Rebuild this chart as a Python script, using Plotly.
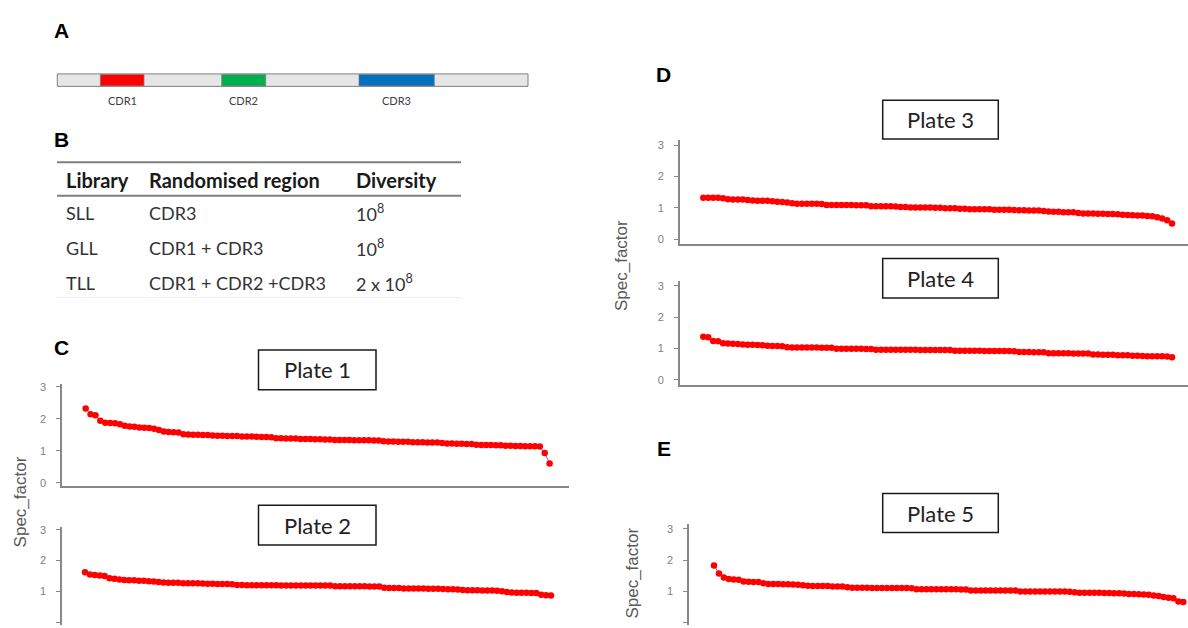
import plotly.graph_objects as go

W, H = 1188, 628

# ---------------- data ----------------
wells = list(range(1, 97))

plate1 = [2.32, 2.14, 2.11, 1.94, 1.88, 1.87, 1.86, 1.83, 1.78, 1.76, 1.75, 1.73,
          1.72, 1.71, 1.69, 1.65, 1.60, 1.59, 1.58, 1.57, 1.52, 1.51, 1.50, 1.50,
          1.49, 1.49, 1.48, 1.47, 1.47, 1.46, 1.46, 1.46, 1.45, 1.45, 1.45, 1.44,
          1.43, 1.43, 1.42, 1.39, 1.39, 1.38, 1.38, 1.38, 1.37, 1.37, 1.37, 1.36,
          1.36, 1.35, 1.35, 1.34, 1.34, 1.34, 1.34, 1.33, 1.33, 1.33, 1.33, 1.32,
          1.32, 1.30, 1.29, 1.29, 1.28, 1.28, 1.28, 1.27, 1.27, 1.27, 1.26, 1.26,
          1.26, 1.24, 1.23, 1.23, 1.22, 1.22, 1.21, 1.21, 1.19, 1.18, 1.18, 1.18,
          1.17, 1.17, 1.16, 1.16, 1.15, 1.15, 1.14, 1.14, 1.14, 1.13, 0.93, 0.60]

plate2 = [1.62, 1.55, 1.53, 1.52, 1.50, 1.43, 1.41, 1.39, 1.37, 1.36, 1.36, 1.35,
          1.35, 1.33, 1.32, 1.31, 1.29, 1.28, 1.28, 1.28, 1.27, 1.27, 1.27, 1.27,
          1.26, 1.25, 1.25, 1.24, 1.24, 1.24, 1.23, 1.21, 1.21, 1.20, 1.20, 1.20,
          1.20, 1.20, 1.20, 1.20, 1.19, 1.19, 1.19, 1.19, 1.19, 1.19, 1.19, 1.19,
          1.19, 1.19, 1.19, 1.17, 1.17, 1.17, 1.17, 1.17, 1.17, 1.17, 1.16, 1.16,
          1.16, 1.12, 1.11, 1.11, 1.11, 1.10, 1.10, 1.10, 1.10, 1.10, 1.09, 1.09,
          1.09, 1.08, 1.07, 1.07, 1.06, 1.05, 1.04, 1.04, 1.04, 1.03, 1.03, 1.03,
          1.02, 1.01, 0.98, 0.97, 0.96, 0.96, 0.96, 0.95, 0.95, 0.89, 0.88, 0.87]

plate3 = [1.32, 1.32, 1.32, 1.32, 1.30, 1.27, 1.26, 1.26, 1.26, 1.25, 1.23, 1.22,
          1.22, 1.22, 1.21, 1.19, 1.18, 1.17, 1.14, 1.13, 1.13, 1.13, 1.13, 1.13,
          1.12, 1.09, 1.09, 1.09, 1.09, 1.09, 1.09, 1.08, 1.08, 1.08, 1.05, 1.05,
          1.05, 1.05, 1.05, 1.04, 1.02, 1.02, 1.01, 1.01, 1.01, 1.01, 1.01, 1.00,
          1.00, 0.98, 0.98, 0.98, 0.97, 0.97, 0.95, 0.95, 0.95, 0.95, 0.95, 0.94,
          0.94, 0.94, 0.94, 0.93, 0.92, 0.92, 0.91, 0.91, 0.91, 0.90, 0.88, 0.87,
          0.87, 0.86, 0.86, 0.86, 0.83, 0.82, 0.82, 0.82, 0.81, 0.81, 0.80, 0.80,
          0.79, 0.78, 0.77, 0.76, 0.75, 0.75, 0.74, 0.73, 0.70, 0.66, 0.60, 0.50]

plate4 = [1.37, 1.36, 1.24, 1.23, 1.17, 1.16, 1.15, 1.14, 1.13, 1.12, 1.12, 1.11,
          1.10, 1.09, 1.08, 1.08, 1.07, 1.04, 1.03, 1.03, 1.03, 1.03, 1.03, 1.03,
          1.02, 1.02, 1.02, 0.99, 0.99, 0.99, 0.99, 0.99, 0.99, 0.98, 0.98, 0.96,
          0.96, 0.96, 0.96, 0.96, 0.96, 0.96, 0.96, 0.96, 0.95, 0.95, 0.95, 0.95,
          0.95, 0.95, 0.95, 0.93, 0.93, 0.93, 0.93, 0.93, 0.93, 0.92, 0.92, 0.92,
          0.92, 0.92, 0.92, 0.91, 0.89, 0.89, 0.89, 0.88, 0.88, 0.88, 0.85, 0.85,
          0.85, 0.85, 0.85, 0.84, 0.84, 0.84, 0.84, 0.81, 0.81, 0.80, 0.80, 0.80,
          0.78, 0.78, 0.78, 0.77, 0.77, 0.76, 0.75, 0.75, 0.75, 0.75, 0.74, 0.72]

plate5 = [1.83, 1.57, 1.44, 1.40, 1.38, 1.37, 1.32, 1.31, 1.30, 1.30, 1.26, 1.24,
          1.24, 1.24, 1.23, 1.23, 1.22, 1.21, 1.20, 1.18, 1.17, 1.17, 1.17, 1.17,
          1.16, 1.16, 1.16, 1.13, 1.12, 1.12, 1.12, 1.12, 1.11, 1.11, 1.11, 1.11,
          1.11, 1.11, 1.11, 1.11, 1.10, 1.07, 1.07, 1.07, 1.07, 1.07, 1.07, 1.07,
          1.07, 1.07, 1.06, 1.06, 1.03, 1.03, 1.03, 1.03, 1.03, 1.03, 1.03, 1.03,
          1.03, 1.03, 1.00, 1.00, 1.00, 1.00, 1.00, 1.00, 1.00, 1.00, 1.00, 1.00,
          0.99, 0.97, 0.96, 0.96, 0.96, 0.96, 0.96, 0.95, 0.95, 0.94, 0.94, 0.93,
          0.92, 0.92, 0.91, 0.90, 0.89, 0.87, 0.85, 0.82, 0.80, 0.78, 0.68, 0.66]

plate_names = ["Plate 1", "Plate 2", "Plate 3", "Plate 4", "Plate 5"]
y_ticks = [0, 1, 2, 3]
y_label = "Spec_factor"

cdr_names = ["CDR1", "CDR2", "CDR3"]

table_header = ["Library", "Randomised region", "Diversity"]
table_library = ["SLL", "GLL", "TLL"]
table_region = ["CDR3", "CDR1 + CDR3", "CDR1 + CDR2 +CDR3"]
table_diversity = ["10<sup>8</sup>", "10<sup>8</sup>", "2 x 10<sup>8</sup>"]

panel_letters = ["A", "B", "C", "D", "E"]

# ---------------- layout helpers ----------------
def fx(x):
    return x / W


def fy(y):
    return 1 - y / H


AXIS_COL = "#888888"
TICK_FONT = dict(family="Liberation Sans, Arial", size=11, color="#808080")

# per plot: pixel box of axes, axis ranges, whether x axis line visible
plots = [
    dict(vals=plate1, x0=62.3, x1=568.6, ytop=384.0, ybot=487.3, xr=[-3.79, 99.89], yr=[-0.10, 3.10], xline=True),
    dict(vals=plate2, x0=62.3, x1=568.6, ytop=529.3, ybot=628.0, xr=[-3.63, 99.59], yr=[-0.087, 3.077], xline=False),
    dict(vals=plate3, x0=680.0, x1=1188.0, ytop=137.7, ybot=242.3, xr=[-3.72, 99.24], yr=[-0.145, 3.158], xline=True),
    dict(vals=plate4, x0=680.0, x1=1188.0, ytop=280.0, ybot=385.0, xr=[-3.72, 99.24], yr=[-0.158, 3.158], xline=True),
    dict(vals=plate5, x0=689.3, x1=1188.0, ytop=526.0, ybot=628.0, xr=[-4.0, 96.95], yr=[-0.073, 3.148], xline=False),
]

fig = go.Figure()
layout = dict(
    width=W, height=H, autosize=False,
    margin=dict(l=0, r=0, t=0, b=0, pad=0),
    paper_bgcolor="white", plot_bgcolor="rgba(0,0,0,0)",
    showlegend=False,
)

for i, p in enumerate(plots, start=1):
    xa = "x" if i == 1 else f"x{i}"
    ya = "y" if i == 1 else f"y{i}"
    fig.add_trace(go.Scatter(
        x=wells, y=p["vals"], xaxis=xa, yaxis=ya,
        mode="lines+markers",
        line=dict(color="#5a6cf0", width=1),
        marker=dict(color="#ff0000", size=6.5, line=dict(width=0)),
        hoverinfo="x+y",
    ))
    layout["xaxis" if i == 1 else f"xaxis{i}"] = dict(
        domain=[fx(p["x0"]), fx(p["x1"])], range=p["xr"],
        anchor=ya, showline=p["xline"], linecolor=AXIS_COL, linewidth=2,
        showticklabels=False, ticks="", showgrid=False, zeroline=False,
    )
    layout["yaxis" if i == 1 else f"yaxis{i}"] = dict(
        domain=[fy(p["ybot"]), fy(p["ytop"])], range=p["yr"],
        anchor=xa, showline=True, linecolor=AXIS_COL, linewidth=2,
        ticks="outside", ticklen=4, tickwidth=1, tickcolor=AXIS_COL,
        tickvals=y_ticks, tickfont=TICK_FONT, ticklabelstandoff=8,
        showgrid=False, zeroline=False,
    )

shapes = []
annotations = []

# ---------------- panel A: domain bar ----------------
bar_top, bar_bot = 70.7, 83.3
shapes.append(dict(type="rect", xref="paper", yref="paper",
                   x0=fx(57.3), x1=fx(528.0), y0=fy(bar_bot), y1=fy(bar_top),
                   fillcolor="#e6e6e6", line=dict(color="#7f7f7f", width=1)))
cdr_spans = [(100.3, 144.0, "#ff0000"), (221.7, 265.7, "#00b050"), (359.0, 434.3, "#0070c0")]
for (a, b, c), name in zip(cdr_spans, cdr_names):
    shapes.append(dict(type="rect", xref="paper", yref="paper",
                       x0=fx(a), x1=fx(b), y0=fy(bar_bot - 0.5), y1=fy(bar_top + 0.5),
                       fillcolor=c, line=dict(color="#7f7f7f", width=0.8)))
    annotations.append(dict(xref="paper", yref="paper", x=fx((a + b) / 2), y=fy(97.5),
                            text=name, showarrow=False, xanchor="center", yanchor="middle",
                            font=dict(family="Lato, Open Sans", size=11, color="#404040")))

# ---------------- panel B: table ----------------
TABLE_FONT = "Lato, Open Sans"
shapes.append(dict(type="line", xref="paper", yref="paper", x0=fx(57), x1=fx(461),
                   y0=fy(160), y1=fy(160), line=dict(color="#7f7f7f", width=2)))
shapes.append(dict(type="line", xref="paper", yref="paper", x0=fx(57), x1=fx(461),
                   y0=fy(194), y1=fy(194), line=dict(color="#7f7f7f", width=2)))
shapes.append(dict(type="line", xref="paper", yref="paper", x0=fx(57), x1=fx(461),
                   y0=fy(297), y1=fy(297), line=dict(color="#ececec", width=1)))
col_x = [64, 147, 354]
for cx, t in zip(col_x, table_header):
    annotations.append(dict(xref="paper", yref="paper", x=fx(cx), y=fy(178),
                            text=f"<b>{t}</b>", showarrow=False, xanchor="left", yanchor="middle",
                            font=dict(family=TABLE_FONT, size=20, color="#1a1a1a")))
row_y = [211, 247, 282]
for ry, lib, reg, div in zip(row_y, table_library, table_region, table_diversity):
    for cx, t in zip(col_x, [lib, reg, div]):
        annotations.append(dict(xref="paper", yref="paper", x=fx(cx), y=fy(ry),
                                text=t, showarrow=False, xanchor="left", yanchor="middle",
                                font=dict(family=TABLE_FONT, size=18, color="#333333")))

# ---------------- plate title boxes ----------------
plate_boxes = [(258.5, 376.0, 350.0, 390.0),
               (258.5, 376.0, 507.0, 547.0),
               (882.7, 998.3, 97.3, 136.5),
               (882.7, 998.3, 257.3, 297.3),
               (882.7, 998.3, 495.0, 534.5)]
for (a, b, t, btm), name in zip(plate_boxes, plate_names):
    shapes.append(dict(type="rect", xref="paper", yref="paper",
                       x0=fx(a), x1=fx(b), y0=fy(btm), y1=fy(t),
                       fillcolor="white", line=dict(color="#1a1a1a", width=1.5), layer="above"))
    annotations.append(dict(xref="paper", yref="paper", x=fx((a + b) / 2), y=fy((t + btm) / 2),
                            text=name, showarrow=False, xanchor="center", yanchor="middle",
                            font=dict(family="Lato, Open Sans", size=22, color="#222222")))

# ---------------- y-axis titles ----------------
for (lx, ly) in [(20, 504), (621, 265), (633, 576)]:
    annotations.append(dict(xref="paper", yref="paper", x=fx(lx), y=fy(ly),
                            text=y_label, textangle=-90, showarrow=False,
                            xanchor="center", yanchor="middle",
                            font=dict(family="Liberation Sans, Arial", size=17, color="#595959")))

# ---------------- panel letters ----------------
letter_pos = [(61, 27), (61, 137), (61, 347), (663.5, 71), (664, 450)]
for (lx, ly), letter in zip(letter_pos, panel_letters):
    annotations.append(dict(xref="paper", yref="paper", x=fx(lx), y=fy(ly),
                            text=f"<b>{letter}</b>", showarrow=False,
                            xanchor="center", yanchor="middle",
                            font=dict(family="Liberation Sans, Arial", size=21, color="#000000")))

layout["shapes"] = shapes
layout["annotations"] = annotations
fig.update_layout(**layout)

fig.write_html("out.html")
